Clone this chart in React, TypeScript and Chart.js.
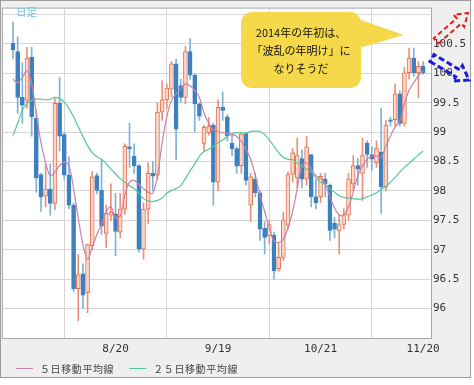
import { useEffect, useRef } from 'react';
import { Chart, registerables } from 'chart.js';

Chart.register(...registerables);

// ---- data ----
const opens = [
  100.51, 100.37, 99.59, 99.54, 100.27, 99.24, 98.28, 97.91, 98.03, 97.79,
  99.49, 98.96, 98.27, 97.76, 96.34, 96.59, 96.27, 97.07, 98.26, 98.01,
  97.28, 97.59, 97.61, 97.30, 97.69, 98.75, 98.59, 98.43, 97.01, 97.69,
  98.30, 98.27, 99.34, 99.55, 99.73, 100.16, 99.79, 99.59, 100.37, 99.97,
  99.48, 98.81, 98.99, 99.12, 98.15, 99.42, 99.26, 98.81, 98.72, 98.43,
  98.98, 97.76, 98.20, 97.97, 97.37, 97.24, 97.25, 96.68, 96.87, 97.42,
  98.28, 98.22, 98.55, 98.20, 98.62, 97.90, 97.90, 98.20, 98.10, 97.45,
  97.32, 97.43, 97.59, 98.12, 98.43, 98.30, 98.81, 98.62, 98.48, 98.66,
  98.07, 99.21, 99.21, 99.65, 99.15, 100.01, 100.26, 100.01, 100.12,
];
const highs = [
  100.87, 100.62, 100.18, 100.44, 100.44, 99.38, 98.30, 98.44, 98.46, 99.57,
  99.93, 99.00, 98.58, 97.80, 96.92, 96.76, 97.10, 98.33, 98.30, 98.54,
  97.76, 98.12, 97.96, 97.96, 98.80, 99.15, 98.80, 98.45, 97.80, 98.48,
  98.50, 99.50, 99.87, 99.82, 100.20, 100.24, 99.90, 100.46, 100.59, 100.00,
  99.50, 99.12, 99.25, 99.15, 99.55, 99.68, 99.30, 98.95, 98.75, 99.00,
  99.00, 98.30, 98.30, 98.00, 97.48, 97.50, 97.30, 97.10, 97.64, 98.32,
  98.72, 98.90, 98.70, 98.93, 98.62, 98.20, 98.30, 98.30, 98.12, 97.55,
  97.60, 97.70, 98.30, 98.60, 98.55, 98.90, 98.85, 98.75, 98.85, 99.40,
  99.20, 99.25, 99.82, 99.70, 100.10, 100.43, 100.43, 100.20, 100.20,
];
const lows = [
  100.25, 99.32, 99.15, 99.40, 98.93, 97.98, 97.65, 97.73, 97.59, 97.68,
  98.68, 98.20, 97.70, 96.29, 95.79, 96.00, 95.93, 97.00, 97.95, 97.26,
  97.04, 97.50, 96.90, 97.20, 97.60, 98.40, 98.30, 96.96, 96.84, 97.45,
  98.00, 98.20, 99.20, 99.40, 99.60, 98.53, 99.50, 99.48, 99.90, 99.01,
  99.20, 98.68, 98.95, 97.76, 98.00, 99.20, 98.85, 98.60, 98.30, 98.30,
  98.10, 97.48, 97.90, 97.16, 96.93, 97.10, 96.50, 96.63, 96.82, 97.35,
  98.15, 98.05, 98.05, 98.10, 97.73, 97.70, 97.80, 97.90, 97.16, 97.20,
  96.93, 97.35, 97.50, 98.00, 98.10, 97.84, 98.40, 98.35, 98.40, 97.62,
  98.00, 99.10, 99.10, 99.10, 99.10, 99.90, 99.95, 99.59, 99.98,
];
const closes = [
  100.40, 99.59, 99.46, 100.26, 99.26, 98.22, 97.90, 98.03, 97.79, 99.49,
  98.93, 98.27, 97.76, 96.34, 96.58, 96.23, 97.09, 98.24, 98.01, 97.40,
  97.62, 97.64, 97.31, 97.69, 98.76, 98.72, 98.43, 97.01, 97.69, 98.30,
  98.25, 99.34, 99.55, 99.75, 100.16, 99.05, 99.59, 100.37, 99.97, 99.48,
  99.27, 99.08, 99.10, 98.15, 99.42, 99.37, 98.94, 98.72, 98.42, 98.97,
  98.18, 98.24, 97.97, 97.35, 97.21, 97.43, 96.64, 96.87, 97.51, 98.28,
  98.65, 98.60, 98.20, 98.75, 97.90, 97.80, 98.25, 98.12, 97.33, 97.35,
  97.43, 97.60, 98.20, 98.43, 98.37, 98.60, 98.62, 98.54, 98.73, 98.07,
  99.12, 99.18, 99.65, 99.15, 100.01, 100.26, 100.01, 100.12, 100.01,
];
const ma5 = [
  99.90, 99.84, 99.93, 100.04, 99.82, 99.32, 98.82, 98.48, 98.26, 98.32,
  98.43, 98.49, 98.43, 98.04, 97.54, 97.09, 96.84, 97.04, 97.26, 97.43,
  97.65, 97.73, 97.54, 97.57, 97.93, 98.15, 98.18, 98.11, 98.04, 97.98,
  97.96, 98.26, 98.82, 99.26, 99.54, 99.65, 99.73, 99.82, 99.79, 99.71,
  99.59, 99.32, 99.15, 99.04, 99.01, 98.99, 98.98, 98.96, 98.93, 98.84,
  98.71, 98.54, 98.26, 97.93, 97.65, 97.37, 97.15, 97.12, 97.18, 97.37,
  97.65, 98.04, 98.43, 98.48, 98.37, 98.26, 98.21, 98.12, 97.90, 97.71,
  97.59, 97.59, 97.73, 97.98, 98.26, 98.43, 98.54, 98.59, 98.59, 98.57,
  98.76, 98.93, 99.09, 99.18, 99.48, 99.71, 99.84, 99.96, 100.04,
];
const ma25 = [
  98.94, 99.15, 99.37, 99.49, 99.54, 99.56, 99.56, 99.55, 99.56, 99.59,
  99.57, 99.51, 99.40, 99.26, 99.09, 98.93, 98.77, 98.65, 98.58, 98.54,
  98.46, 98.37, 98.29, 98.21, 98.15, 98.09, 98.04, 97.96, 97.87, 97.83,
  97.82, 97.84, 97.88, 97.96, 98.01, 98.04, 98.09, 98.21, 98.34, 98.46,
  98.59, 98.67, 98.71, 98.76, 98.82, 98.87, 98.93, 98.97, 98.99, 98.99,
  98.98, 99.01, 99.02, 99.01, 98.96, 98.87, 98.76, 98.65, 98.57, 98.54,
  98.53, 98.48, 98.43, 98.37, 98.32, 98.23, 98.15, 98.11, 98.04, 97.98,
  97.92, 97.89, 97.88, 97.87, 97.86, 97.87, 97.90, 97.93, 97.97, 98.03,
  98.08, 98.15, 98.23, 98.32, 98.40, 98.47, 98.54, 98.61, 98.68,
];
const xTickIndex = [0, 22, 44, 66, 88];
const xTickLabels = ['', '8/20', '9/19', '10/21', '11/20'];
const yTickValues = [96, 96.5, 97, 97.5, 98, 98.5, 99, 99.5, 100, 100.5, 101];
const yTickLabels = ['96', '96.5', '97', '97.5', '98', '98.5', '99', '99.5', '100', '100.5', ''];
const legendLabels = ['５日移動平均線', '２５日移動平均線'];
const noteLines = ['2014年の年初は、', '「波乱の年明け」に', 'なりそうだ'];
const periodLabel = '日足';

// ---- styles ----
const UP_BODY = '#fbd8cb';
const UP_LINE = '#e2714f';
const UP_WICK = '#ec9079';
const DN_BODY = '#3d80c0';
const DN_WICK = '#7fb1d9';
const MA5_COLOR = '#c982a6';
const MA25_COLOR = '#55c991';
const GRID = '#d6d6d6';
const MONO = '"DejaVu Sans Mono", monospace';
const JP = '"Noto Sans CJK JP", sans-serif';

function arrowPath(ctx: CanvasRenderingContext2D, x1: number, y1: number, x2: number, y2: number, sw: number, hw: number, hl: number) {
  const dx = x2 - x1, dy = y2 - y1;
  const L = Math.hypot(dx, dy);
  const ux = dx / L, uy = dy / L;
  const nx = -uy, ny = ux;
  const bx = x2 - ux * hl, by = y2 - uy * hl;
  ctx.beginPath();
  ctx.moveTo(x1 + nx * sw, y1 + ny * sw);
  ctx.lineTo(bx + nx * sw, by + ny * sw);
  ctx.lineTo(bx + nx * hw, by + ny * hw);
  ctx.lineTo(x2, y2);
  ctx.lineTo(bx - nx * hw, by - ny * hw);
  ctx.lineTo(bx - nx * sw, by - ny * sw);
  ctx.lineTo(x1 - nx * sw, y1 - ny * sw);
  ctx.closePath();
}

const decorPlugin = {
  id: 'decor',
  beforeDraw(chart: any) {
    const { ctx, chartArea: a, width, height } = chart;
    ctx.save();
    ctx.fillStyle = '#ffffff';
    ctx.fillRect(0, 0, width, height);
    ctx.fillStyle = '#efefef';
    ctx.fillRect(0, 0, 471, 378);
    ctx.strokeStyle = '#9c9c9c';
    ctx.lineWidth = 1;
    ctx.strokeRect(0.5, 0.5, 470, 377);
    ctx.fillStyle = '#ffffff';
    ctx.fillRect(a.left, a.top, a.right - a.left, a.bottom - a.top);
    ctx.restore();
  },
  afterDraw(chart: any) {
    const { ctx, chartArea: a } = chart;
    ctx.save();
    // plot border
    ctx.strokeStyle = '#a8a8a8';
    ctx.lineWidth = 1;
    ctx.strokeRect(a.left - 0.5, a.top - 0.5, a.right - a.left + 1, a.bottom - a.top + 1);

    // period label
    ctx.font = '10.5px ' + JP;
    ctx.fillStyle = '#6cc6f0';
    ctx.textBaseline = 'middle';
    ctx.textAlign = 'left';
    ctx.fillText(periodLabel, 16, 12);

    // speech bubble
    ctx.fillStyle = '#f6d94a';
    ctx.beginPath();
    (ctx as any).roundRect(241, 12, 120, 76, 11);
    ctx.fill();
    ctx.beginPath();
    ctx.moveTo(352, 17);
    ctx.lineTo(404, 35);
    ctx.lineTo(352, 50);
    ctx.closePath();
    ctx.fill();
    ctx.fillStyle = '#111111';
    ctx.font = '11px ' + JP;
    ctx.textAlign = 'center';
    noteLines.forEach((t, i) => ctx.fillText(t, 301, 33 + i * 18));

    // legend
    const ly = 368;
    ctx.font = '10px ' + JP;
    (ctx as any).letterSpacing = '0.6px';
    ctx.textAlign = 'left';
    ctx.lineWidth = 1;
    ctx.strokeStyle = MA5_COLOR;
    ctx.beginPath(); ctx.moveTo(16, ly + 0.5); ctx.lineTo(33, ly + 0.5); ctx.stroke();
    ctx.fillStyle = '#444444';
    ctx.fillText(legendLabels[0], 40, ly + 1);
    const w0 = ctx.measureText(legendLabels[0]).width;
    const x2 = 40 + w0 + 15;
    ctx.strokeStyle = MA25_COLOR;
    ctx.beginPath(); ctx.moveTo(x2, ly + 0.5); ctx.lineTo(x2 + 17, ly + 0.5); ctx.stroke();
    ctx.fillText(legendLabels[1], x2 + 24, ly + 1);
    (ctx as any).letterSpacing = '0px';

    // arrows
    ctx.setLineDash([5, 3]);
    ctx.lineWidth = 2;
    ctx.strokeStyle = '#e21f1f';
    arrowPath(ctx, 436, 41, 468, 13, 3.5, 8, 12);
    ctx.stroke();
    ctx.setLineDash([6, 3]);
    ctx.lineWidth = 3;
    ctx.strokeStyle = '#1d1dd8';
    arrowPath(ctx, 432, 58, 469, 80, 4, 9, 13);
    ctx.stroke();
    ctx.restore();
  },
};

export default function App() {
  const ref = useRef<HTMLCanvasElement | null>(null);
  useEffect(() => {
    if (!ref.current) return;
    const up = closes.map((c, i) => c >= opens[i]);
    const chart = new Chart(ref.current, {
      type: 'bar',
      data: {
        datasets: [
          {
            type: 'line',
            label: legendLabels[0],
            data: ma5.map((v, i) => ({ x: i, y: v })),
            borderColor: MA5_COLOR,
            borderWidth: 1.2,
            pointRadius: 0,
            tension: 0.35,
            order: 0,
          } as any,
          {
            type: 'line',
            label: legendLabels[1],
            data: ma25.map((v, i) => ({ x: i, y: v })),
            borderColor: MA25_COLOR,
            borderWidth: 1.2,
            pointRadius: 0,
            tension: 0.35,
            order: 1,
          } as any,
          {
            type: 'bar',
            label: 'body',
            data: opens.map((o, i) => ({ x: i, y: [o, closes[i]] })),
            backgroundColor: up.map((u) => (u ? UP_BODY : DN_BODY)),
            borderColor: up.map((u) => (u ? UP_LINE : DN_BODY)),
            borderWidth: 1,
            borderSkipped: false,
            barThickness: 4,
            grouped: false,
            order: 2,
          } as any,
          {
            type: 'bar',
            label: 'wick',
            data: lows.map((l, i) => ({ x: i, y: [l, highs[i]] })),
            backgroundColor: up.map((u) => (u ? UP_WICK : DN_WICK)),
            borderWidth: 0,
            barThickness: 1,
            grouped: false,
            order: 3,
          } as any,
        ],
      },
      options: {
        animation: false,
        responsive: false,
        devicePixelRatio: 1,
        layout: { padding: { left: 3, top: 3, right: 3, bottom: 25 } },
        plugins: { legend: { display: false }, tooltip: { enabled: false } },
        scales: {
          x: {
            type: 'linear',
            min: -2.15,
            max: 89.7,
            offset: false,
            afterBuildTicks: (s: any) => { s.ticks = xTickIndex.map((v) => ({ value: v })); },
            afterFit: (s: any) => { s.height = 22; },
            grid: { color: GRID, drawTicks: false },
            border: { display: false },
            ticks: {
              padding: 5,
              maxRotation: 0,
              autoSkip: false,
              color: '#333333',
              font: { family: MONO, size: 11 },
              callback: (_v: any, i: number) => xTickLabels[i],
            },
          },
          y: {
            type: 'linear',
            position: 'right',
            min: 95.5,
            max: 101.1,
            afterBuildTicks: (s: any) => { s.ticks = yTickValues.map((v) => ({ value: v })); },
            afterFit: (s: any) => { s.width = 40; },
            grid: { color: GRID, drawTicks: false },
            border: { display: false },
            ticks: {
              padding: 2,
              autoSkip: false,
              color: '#333333',
              font: { family: MONO, size: 11 },
              callback: (_v: any, i: number) => yTickLabels[i],
            },
          },
        },
      } as any,
      plugins: [decorPlugin],
    });
    return () => chart.destroy();
  }, []);
  return (
    <div style={{ position: 'fixed', left: 0, top: 0, width: 474, height: 385 }}>
      <canvas ref={ref} width={474} height={385} style={{ display: 'block' }} />
    </div>
  );
}
